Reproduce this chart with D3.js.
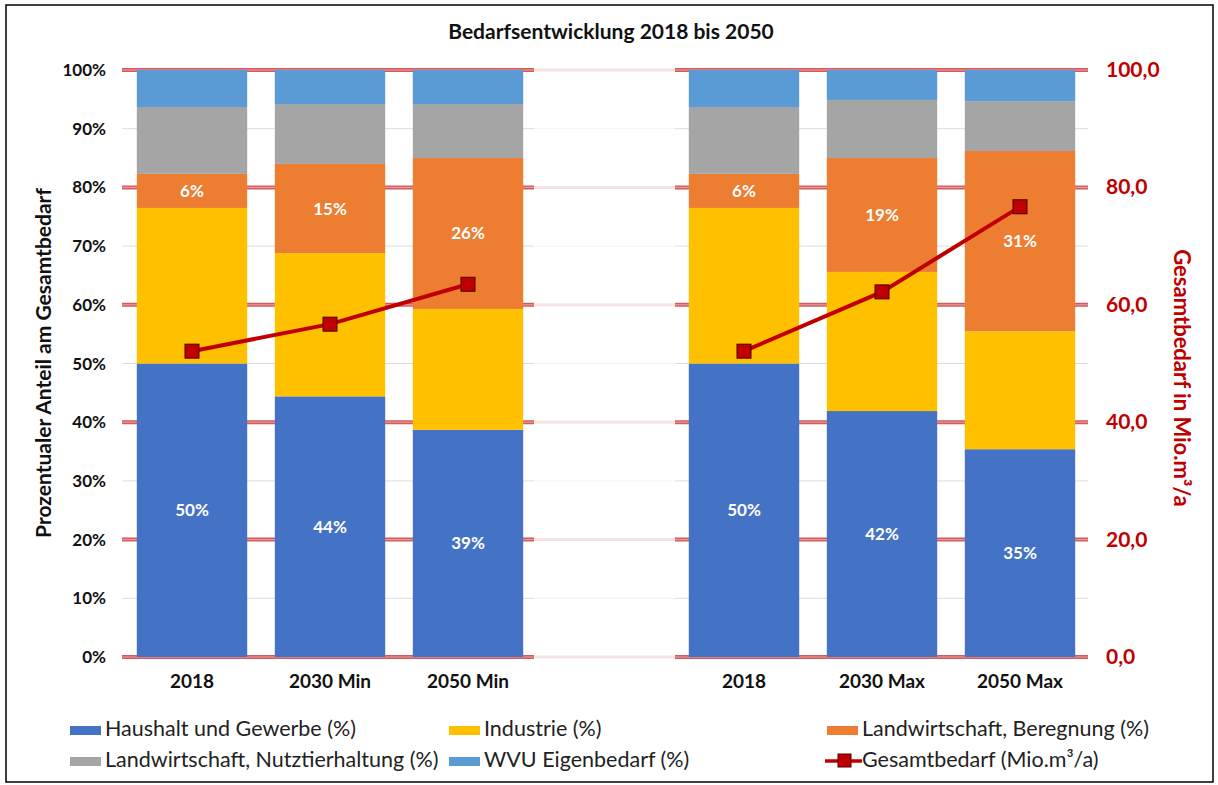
<!DOCTYPE html>
<html><head><meta charset="utf-8">
<script src="https://cdn.jsdelivr.net/npm/d3@7"></script>
<style>body{margin:0;background:#fff}svg{display:block;font-family:Lato,"Open Sans",sans-serif}</style>
</head><body><svg id="c" width="1218" height="785"></svg>
<script>
const categories = ["2018","2030 Min","2050 Min","","2018","2030 Max","2050 Max"];
const haushalt  = [50.0, 44.4, 38.7, null, 50.0, 41.9, 35.4];
const industrie = [26.5, 24.4, 20.6, null, 26.5, 23.7, 20.1];
const beregnung = [5.8, 15.2, 25.7, null, 5.8, 19.4, 30.7];
const nutztier  = [11.4, 10.2, 9.2, null, 11.4, 9.9, 8.5];
const wvu       = [6.3, 5.8, 5.8, null, 6.3, 5.1, 5.3];
const gesamt    = [52.1, 56.7, 63.5, null, 52.1, 62.2, 76.7];
const leftTicks = [0,10,20,30,40,50,60,70,80,90,100];
const rightTicks = [0,20,40,60,80,100];
const seriesNames = ["Haushalt und Gewerbe (%)","Industrie (%)","Landwirtschaft, Beregnung (%)","Landwirtschaft, Nutztierhaltung (%)","WVU Eigenbedarf (%)"];
const colors = ["#4472C4","#FFC000","#ED7D31","#A5A5A5","#5B9BD5"];
const lineName = "Gesamtbedarf (Mio.m³/a)";

const svg = d3.select("#c");
svg.append("rect").attr("x",6).attr("y",5).attr("width",1207).attr("height",777)
  .attr("fill","#fff").attr("stroke","#000").attr("stroke-width",1.5);

const x = d3.scaleBand().domain(d3.range(categories.length)).range([123,1089]).paddingInner(0.2).paddingOuter(0.1);
const y = d3.scaleLinear().domain([0,100]).range([657,70]);
const y2 = d3.scaleLinear().domain([0,100]).range([657,70]);

// gridlines
const segs = [[122,534],[675,1088]];
leftTicks.forEach(t=>{
  const major = t%20===0;
  svg.append("line").attr("x1",534).attr("x2",675).attr("y1",y(t)).attr("y2",y(t))
    .attr("stroke", major?"#f6e4e4":"#f4f4f4").attr("stroke-width",major?3:1);
  segs.forEach(s=>{
    if(major){
      svg.append("line").attr("x1",s[0]).attr("x2",s[1]).attr("y1",y(t)).attr("y2",y(t))
        .attr("stroke","#d45a5a").attr("stroke-width",4);
      svg.append("line").attr("x1",s[0]).attr("x2",s[1]).attr("y1",y(t)).attr("y2",y(t))
        .attr("stroke","#eba3a3").attr("stroke-width",1);
    } else {
      svg.append("line").attr("x1",s[0]).attr("x2",s[1]).attr("y1",y(t)).attr("y2",y(t))
        .attr("stroke","#dcdcdc").attr("stroke-width",1);
    }
  });
});

// stacked bars
const rows = categories.map((c,i)=>({i, s0:haushalt[i], s1:industrie[i], s2:beregnung[i], s3:nutztier[i], s4:wvu[i]})).filter(d=>d.s0!=null);
const stack = d3.stack().keys(["s0","s1","s2","s3","s4"])(rows);
stack.forEach((layer,k)=>{
  svg.append("g").selectAll("rect").data(layer).join("rect")
    .attr("x",d=>x(d.data.i)).attr("width",x.bandwidth())
    .attr("y",d=>y(d[1])).attr("height",d=>y(d[0])-y(d[1]))
    .attr("fill",colors[k]);
});
// labels
[0,2].forEach(k=>{
  svg.append("g").selectAll("text").data(stack[k]).join("text")
    .attr("x",d=>x(d.data.i)+x.bandwidth()/2).attr("y",d=>y((d[0]+d[1])/2)+6)
    .attr("text-anchor","middle").attr("fill","#fff").attr("font-weight","bold").attr("font-size",17)
    .text(d=>Math.round(d[1]-d[0])+"%");
});

// line
const line = d3.line().defined(d=>d!=null).x((d,i)=>x(i)+x.bandwidth()/2).y(d=>y2(d));
svg.append("path").attr("d",line(gesamt)).attr("fill","none").attr("stroke","#C00000").attr("stroke-width",4);
svg.append("g").selectAll("rect").data(gesamt.map((v,i)=>({v,i})).filter(d=>d.v!=null)).join("rect")
  .attr("x",d=>x(d.i)+x.bandwidth()/2-7).attr("y",d=>y2(d.v)-7).attr("width",14).attr("height",14)
  .attr("fill","#C00000").attr("stroke","#4a0000").attr("stroke-width",1);

// left axis labels
svg.append("g").selectAll("text").data(leftTicks).join("text")
  .attr("x",106).attr("y",d=>y(d)+6).attr("text-anchor","end").attr("font-weight","bold").attr("font-size",17)
  .attr("fill","#111").text(d=>d+"%");
// right axis labels
svg.append("g").selectAll("text").data(rightTicks).join("text")
  .attr("x",1106).attr("y",d=>y2(d)+7).attr("font-weight","bold").attr("font-size",21)
  .attr("fill","#C00000").text(d=>d3.format(".1f")(d).replace(".",","));
// category labels
svg.append("g").selectAll("text").data(categories.map((c,i)=>({c,i})).filter(d=>d.c)).join("text")
  .attr("x",d=>x(d.i)+x.bandwidth()/2).attr("y",688).attr("text-anchor","middle")
  .attr("font-weight","bold").attr("font-size",19).attr("fill","#111").text(d=>d.c);

// titles
svg.append("text").attr("x",611).attr("y",39).attr("text-anchor","middle").attr("font-weight","bold")
  .attr("font-size",21).attr("fill","#111").text("Bedarfsentwicklung 2018 bis 2050");
svg.append("text").attr("transform","translate(51,363) rotate(-90)").attr("text-anchor","middle")
  .attr("font-weight","bold").attr("font-size",21).attr("fill","#111").text("Prozentualer Anteil am Gesamtbedarf");
svg.append("text").attr("transform","translate(1174,378) rotate(90)").attr("text-anchor","middle")
  .attr("font-weight","bold").attr("font-size",22).attr("fill","#C00000").text("Gesamtbedarf in Mio.m³/a");

// legend
const legPos = [[70,736],[449,736],[827,736],[70,767],[449,767]];
seriesNames.forEach((n,k)=>{
  const [lx,ly]=legPos[k];
  svg.append("rect").attr("x",lx).attr("y",ly-10).attr("width",31).attr("height",9).attr("fill",colors[k]);
  svg.append("text").attr("x",lx+35).attr("y",ly).attr("font-size",21.5).attr("fill","#222").text(n);
});
svg.append("line").attr("x1",825).attr("x2",862).attr("y1",761).attr("y2",761).attr("stroke","#C00000").attr("stroke-width",3.5);
svg.append("rect").attr("x",838).attr("y",754).attr("width",13).attr("height",13).attr("fill","#C00000").attr("stroke","#4a0000");
svg.append("text").attr("x",862).attr("y",767).attr("font-size",21.5).attr("fill","#222").text(lineName);
</script></body></html>
